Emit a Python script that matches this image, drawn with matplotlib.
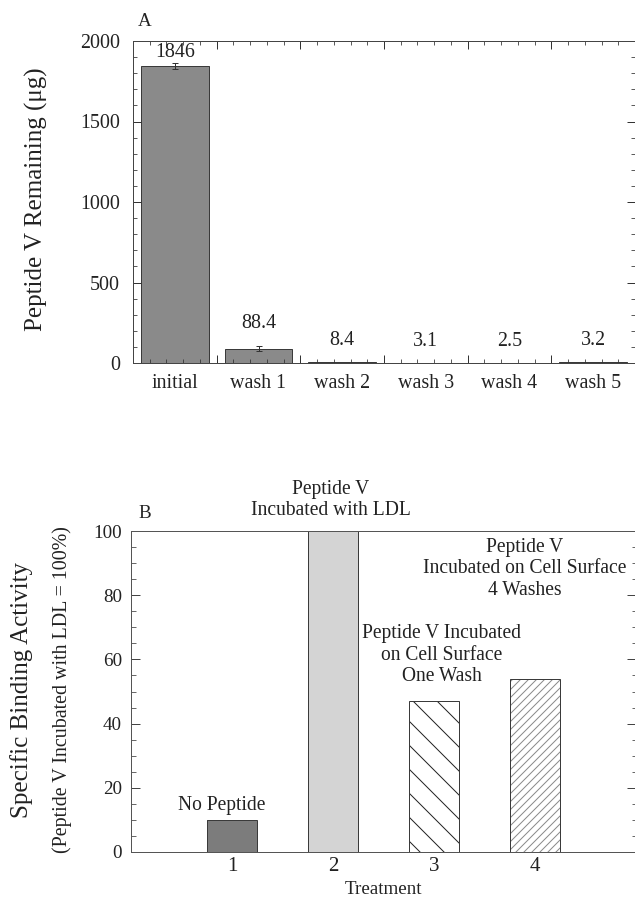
import matplotlib
matplotlib.use("Agg")
import matplotlib.pyplot as plt
from matplotlib.ticker import MultipleLocator, NullFormatter
import numpy as np

plt.rcParams['font.family'] = ['Liberation Serif', 'DejaVu Serif']
plt.rcParams['hatch.linewidth'] = 1.0

# Panel A: peptide left after each wash
steps = ["initial", "wash 1", "wash 2", "wash 3", "wash 4", "wash 5"]
remaining = [1846, 88.4, 8.4, 3.1, 2.5, 3.2]
remaining_err = [20, 15, 0, 0, 0, 0]

# Panel B: specific binding per treatment
treatments = [1, 2, 3, 4]
binding = [10, 100, 47, 54]
notes = ["No Peptide",
         "Peptide V\nIncubated with LDL",
         "Peptide V Incubated\non Cell Surface\nOne Wash",
         "Peptide V\nIncubated on Cell Surface\n4 Washes"]

W, H, DPI = 635, 900, 72
fig = plt.figure(figsize=(W / DPI, H / DPI), dpi=DPI)
fig.patch.set_facecolor('white')


def frac(l, t, r, b):
    return [l / W, 1 - b / H, (r - l) / W, (b - t) / H]


EDGE = '#3a3a3a'

# ---------------- Panel A ----------------
axA = fig.add_axes(frac(133, 41, 635, 363))
xa = np.arange(len(steps)) + 0.5
axA.bar(xa, remaining, width=0.81, color='#8a8a8a', edgecolor=EDGE, linewidth=1)
for xi, v, e in zip(xa, remaining, remaining_err):
    if e:
        axA.errorbar(xi, v, yerr=e, fmt='none', ecolor='#333333',
                     elinewidth=1, capsize=3, capthick=1)

label_gap = [6, 18, 17, 17, 17, 17]
for xi, v, e, g in zip(xa, remaining, remaining_err, label_gap):
    axA.annotate(f"{v:g}", xy=(xi, v + e), xytext=(0, g),
                 textcoords='offset points', ha='center', va='baseline',
                 fontsize=20, color='#222222')

axA.set_xlim(0, len(steps))
axA.set_ylim(0, 2000)
axA.xaxis.set_major_locator(MultipleLocator(1))
axA.xaxis.set_minor_locator(MultipleLocator(0.2))
axA.xaxis.set_major_formatter(NullFormatter())
axA.yaxis.set_major_locator(MultipleLocator(500))
axA.yaxis.set_minor_locator(MultipleLocator(100))
axA.tick_params(which='both', direction='in', top=True, right=True,
                colors='#333333', labelcolor='#222222')
axA.tick_params(which='major', length=8, width=1)
axA.tick_params(which='minor', length=4, width=0.8)
axA.tick_params(axis='y', labelsize=20, pad=13)
for xi, s in zip(xa, steps):
    axA.text(xi, -0.034, s, transform=axA.get_xaxis_transform(),
             ha='center', va='top', fontsize=20, color='#222222')
for sp in axA.spines.values():
    sp.set_color('#444444')
    sp.set_linewidth(1)

fig.text(36 / W, 1 - 199 / H, "Peptide V Remaining (μg)", rotation=90,
         ha='center', va='center', fontsize=25, color='#222222')
fig.text(145 / W, 1 - 22 / H, "A", ha='center', va='center',
         fontsize=19, color='#222222')

# ---------------- Panel B ----------------
axB = fig.add_axes(frac(131, 531, 636, 852))
faces = ['#7c7c7c', '#d4d4d4', 'white', 'white']
hatches = [None, None, '\\', '///']
hatch_colors = [EDGE, EDGE, '#222222', '#8a8a8a']
for t, v, fc, h, hc in zip(treatments, binding, faces, hatches, hatch_colors):
    axB.bar(t, v, width=0.5, color=fc, edgecolor=hc, hatch=h, linewidth=0)
    axB.bar(t, v, width=0.5, fill=False, edgecolor=EDGE, linewidth=1)

note_offsets = [(-10, 14), (-2, 31), (8, 46), (-10, 110)]
for t, v, s, (dx, dy) in zip(treatments, binding, notes, note_offsets):
    axB.annotate(s, xy=(t, v), xytext=(dx, dy), textcoords='offset points',
                 ha='center', va='center', multialignment='center',
                 fontsize=19.5, linespacing=1.17, color='#222222',
                 annotation_clip=False)

axB.set_xlim(0, 5)
axB.set_ylim(0, 100)
axB.set_xticks(treatments, [str(t) for t in treatments])
axB.yaxis.set_major_locator(MultipleLocator(20))
axB.yaxis.set_minor_locator(MultipleLocator(5))
axB.tick_params(axis='x', length=0, labelsize=21, pad=5, labelcolor='#222222')
axB.tick_params(axis='y', which='both', direction='in', right=True,
                colors='#444444', labelcolor='#222222')
axB.tick_params(axis='y', which='major', length=9, width=1, labelsize=19, pad=9)
axB.tick_params(axis='y', which='minor', length=4.5, width=0.8)
for sp in axB.spines.values():
    sp.set_color('#555555')
    sp.set_linewidth(1)

fig.text(383 / W, 1 - 889 / H, "Treatment", ha='center', va='center',
         fontsize=19, color='#222222')
fig.text(22 / W, 1 - 690 / H, "Specific Binding Activity", rotation=90,
         ha='center', va='center', fontsize=25, color='#222222')
fig.text(62 / W, 1 - 690 / H, "(Peptide V Incubated with LDL = 100%)",
         rotation=90, ha='center', va='center', fontsize=20, color='#222222')
fig.text(145 / W, 1 - 513 / H, "B", ha='center', va='center',
         fontsize=19, color='#222222')

fig.savefig("out.png", dpi=DPI)
